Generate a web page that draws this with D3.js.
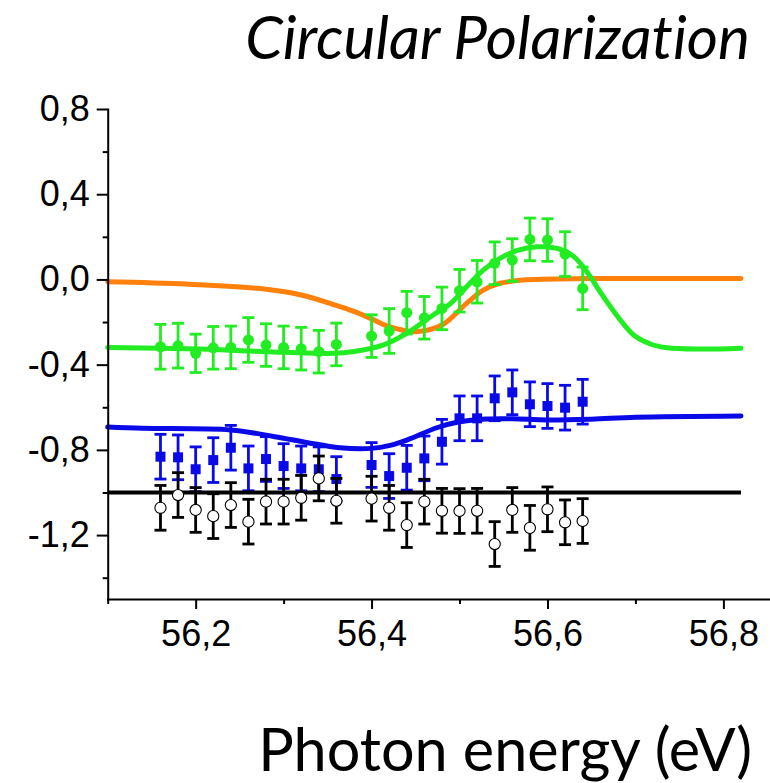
<!DOCTYPE html>
<html>
<head>
<meta charset="utf-8">
<script src="https://cdn.jsdelivr.net/npm/d3@7"></script>
<style>
  html, body { margin: 0; padding: 0; background: #ffffff; }
  svg { display: block; }
</style>
</head>
<body>
<svg id="chart" width="770" height="783"></svg>
<script>
// Photon energies of the measured points (eV)
const energies = [56.16, 56.18, 56.20, 56.22, 56.24, 56.26, 56.28, 56.30, 56.32, 56.34, 56.36,
                  56.40, 56.42, 56.44, 56.46, 56.48, 56.50, 56.52, 56.54, 56.56, 56.58, 56.60, 56.62, 56.64];

// Measured circular polarization, green series (filled circles)
const greenValues = [-0.316, -0.311, -0.347, -0.321, -0.319, -0.284, -0.308, -0.319, -0.325, -0.339, -0.305,
                     -0.266, -0.242, -0.156, -0.180, -0.136, -0.053, -0.011, 0.076, 0.091, 0.188, 0.185, 0.119, -0.042];
const greenErrors = [0.105, 0.105, 0.09, 0.1, 0.1, 0.105, 0.1, 0.1, 0.1, 0.1, 0.1,
                     0.1, 0.105, 0.1, 0.1, 0.1, 0.1, 0.1, 0.1, 0.1, 0.1, 0.1, 0.105, 0.1];

// Blue series (filled squares)
const blueValues = [-0.832, -0.835, -0.891, -0.848, -0.790, -0.887, -0.843, -0.876, -0.887, -0.891, -0.937,
                    -0.871, -0.923, -0.884, -0.840, -0.762, -0.652, -0.652, -0.558, -0.530, -0.586, -0.594, -0.602, -0.574];
const blueErrors = [0.105, 0.105, 0.105, 0.105, 0.105, 0.105, 0.105, 0.105, 0.105, 0.105, 0.105,
                    0.105, 0.105, 0.105, 0.105, 0.105, 0.105, 0.105, 0.105, 0.105, 0.105, 0.105, 0.105, 0.105];

// Black series (open circles)
const blackValues = [-1.072, -1.012, -1.082, -1.111, -1.059, -1.137, -1.043, -1.043, -1.025, -0.934, -1.039,
                     -1.029, -1.072, -1.153, -1.043, -1.086, -1.087, -1.086, -1.242, -1.082, -1.166, -1.079, -1.140, -1.134];
const blackErrors = [0.105, 0.105, 0.105, 0.105, 0.105, 0.105, 0.105, 0.105, 0.105, 0.105, 0.105,
                     0.105, 0.105, 0.105, 0.105, 0.105, 0.105, 0.105, 0.105, 0.105, 0.105, 0.105, 0.105, 0.105];

// Model curves, sampled as [energy, value]
const orangeCurve = [[56.10, -0.011], [56.19, -0.022], [56.28, -0.046], [56.32, -0.073], [56.357, -0.118],
                     [56.38, -0.150], [56.40, -0.185], [56.42, -0.222], [56.45, -0.245], [56.48, -0.214],
                     [56.508, -0.112], [56.527, -0.050], [56.546, -0.018], [56.572, -0.003], [56.65, 0.004],
                     [56.82, 0.004]];
const greenCurve = [[56.10, -0.319], [56.205, -0.327], [56.28, -0.339], [56.357, -0.347], [56.38, -0.338],
                    [56.413, -0.308], [56.44, -0.253], [56.47, -0.167], [56.49, -0.112], [56.51, -0.026],
                    [56.527, 0.044], [56.546, 0.099], [56.565, 0.135], [56.588, 0.153], [56.611, 0.146],
                    [56.63, 0.107], [56.646, 0.029], [56.66, -0.059], [56.68, -0.175], [56.698, -0.261],
                    [56.717, -0.303], [56.736, -0.321], [56.773, -0.327], [56.82, -0.323]];
const blueCurve = [[56.10, -0.693], [56.14, -0.699], [56.24, -0.707], [56.29, -0.738], [56.326, -0.765],
                   [56.364, -0.790], [56.40, -0.793], [56.421, -0.779], [56.44, -0.754], [56.475, -0.695],
                   [56.50, -0.668], [56.53, -0.655], [56.56, -0.654], [56.60, -0.660], [56.65, -0.656],
                   [56.70, -0.647], [56.82, -0.641]];
const blackLevel = [[56.10, -1.0], [56.82, -1.0]];

// Axis ticks
const xTickValues = [56.2, 56.4, 56.6, 56.8];
const xTickLabels = ["56,2", "56,4", "56,6", "56,8"];
const xMinorTicks = [56.1, 56.3, 56.5, 56.7];
const yTickValues = [0.8, 0.4, 0.0, -0.4, -0.8, -1.2];
const yTickLabels = ["0,8", "0,4", "0,0", "-0,4", "-0,8", "-1,2"];
const yMinorTicks = [0.6, 0.2, -0.2, -0.6, -1.0, -1.4];

const titleText = "Circular Polarization";
const xAxisTitle = "Photon energy (eV)";

// ---------------------------------------------------------------
const svg = d3.select("#chart");
const x = d3.scaleLinear().domain([56.1, 56.853]).range([107.7, 770]);
const y = d3.scaleLinear().domain([-1.5, 0.8]).range([599, 109]);

const COLORS = { orange: "#ff800a", green: "#22ec22", blue: "#0a0ae8", black: "#000000" };
const tickFont = "'Liberation Sans', Arial, sans-serif";

const line = d3.line()
  .x(d => x(d[0]))
  .y(d => y(d[1]))
  .curve(d3.curveCatmullRom.alpha(0.5));

function drawCurve(data, color, width) {
  svg.append("path")
    .datum(data)
    .attr("fill", "none")
    .attr("stroke", color)
    .attr("stroke-width", width)
    .attr("stroke-linecap", "round")
    .attr("stroke-linejoin", "round")
    .attr("d", line);
}

function drawErrorBars(values, errors, color) {
  const g = svg.append("g")
    .attr("stroke", color)
    .attr("stroke-width", 2.8)
    .attr("fill", "none");
  const pts = energies.map((e, i) => ({ e, v: values[i], err: errors[i] }));
  const capHalf = 6;
  g.selectAll("line.bar").data(pts).join("line")
    .attr("class", "bar")
    .attr("x1", d => x(d.e)).attr("x2", d => x(d.e))
    .attr("y1", d => y(d.v + d.err)).attr("y2", d => y(d.v - d.err));
  g.selectAll("line.capTop").data(pts).join("line")
    .attr("class", "capTop")
    .attr("x1", d => x(d.e) - capHalf).attr("x2", d => x(d.e) + capHalf)
    .attr("y1", d => y(d.v + d.err)).attr("y2", d => y(d.v + d.err));
  g.selectAll("line.capBot").data(pts).join("line")
    .attr("class", "capBot")
    .attr("x1", d => x(d.e) - capHalf).attr("x2", d => x(d.e) + capHalf)
    .attr("y1", d => y(d.v - d.err)).attr("y2", d => y(d.v - d.err));
  return pts;
}

// Orange model
drawCurve(orangeCurve, COLORS.orange, 5);

// Green series + model
drawCurve(greenCurve, COLORS.green, 5);
const greenPts = drawErrorBars(greenValues, greenErrors, COLORS.green);
svg.append("g").selectAll("circle").data(greenPts).join("circle")
  .attr("cx", d => x(d.e)).attr("cy", d => y(d.v)).attr("r", 5.5)
  .attr("fill", COLORS.green);

// Blue series + model
drawCurve(blueCurve, COLORS.blue, 5);
const bluePts = drawErrorBars(blueValues, blueErrors, COLORS.blue);
svg.append("g").selectAll("rect").data(bluePts).join("rect")
  .attr("x", d => x(d.e) - 5).attr("y", d => y(d.v) - 5)
  .attr("width", 10).attr("height", 10)
  .attr("fill", COLORS.blue);

// Black reference level + open circles
svg.append("path")
  .datum(blackLevel)
  .attr("fill", "none")
  .attr("stroke", COLORS.black)
  .attr("stroke-width", 4)
  .attr("d", d3.line().x(d => x(d[0])).y(d => y(d[1])));
const blackPts = drawErrorBars(blackValues, blackErrors, COLORS.black);
svg.append("g").selectAll("circle").data(blackPts).join("circle")
  .attr("cx", d => x(d.e)).attr("cy", d => y(d.v)).attr("r", 5.6)
  .attr("fill", "#ffffff")
  .attr("stroke", COLORS.black)
  .attr("stroke-width", 1.1);

// ---------------- Axes ----------------
function styleAxis(g) {
  g.selectAll("path.domain").attr("stroke", "#000").attr("stroke-width", 2).attr("stroke-linecap", "square");
  g.selectAll(".tick line").attr("stroke", "#000").attr("stroke-width", 2);
  g.selectAll(".tick text")
    .attr("fill", "#000")
    .style("font-family", tickFont)
    .style("font-size", "36px");
}

const xAxis = svg.append("g")
  .attr("transform", `translate(0,${y(-1.5)})`)
  .call(d3.axisBottom(x).tickValues(xTickValues)
        .tickFormat((d, i) => xTickLabels[i]).tickSize(10).tickSizeOuter(0));
styleAxis(xAxis);
xAxis.selectAll(".tick text").attr("y", 21);

const xMinor = svg.append("g")
  .attr("transform", `translate(0,${y(-1.5)})`)
  .call(d3.axisBottom(x).tickValues(xMinorTicks).tickFormat("").tickSize(5).tickSizeOuter(0));
styleAxis(xMinor);
xMinor.select("path.domain").remove();

const yAxis = svg.append("g")
  .attr("transform", `translate(${x(56.1)},0)`)
  .call(d3.axisLeft(y).tickValues(yTickValues)
        .tickFormat((d, i) => yTickLabels[i]).tickSize(11).tickPadding(7).tickSizeOuter(0));
styleAxis(yAxis);

const yMinor = svg.append("g")
  .attr("transform", `translate(${x(56.1)},0)`)
  .call(d3.axisLeft(y).tickValues(yMinorTicks).tickFormat("").tickSize(5).tickSizeOuter(0));
styleAxis(yMinor);
yMinor.select("path.domain").remove();

// ---------------- Titles ----------------
function fitText(sel, targetWidth) {
  const w = sel.node().getComputedTextLength();
  const size = parseFloat(sel.style("font-size"));
  sel.style("font-size", (size * targetWidth / w) + "px");
}

const title = svg.append("text")
  .attr("x", 750).attr("y", 59)
  .attr("text-anchor", "end")
  .style("font-family", "Lato, 'Open Sans', sans-serif")
  .style("font-style", "italic")
  .style("font-variant-ligatures", "none")
  .style("font-size", "52px")
  .attr("fill", "#000")
  .text(titleText);
fitText(title, 505);

const xTitle = svg.append("text")
  .attr("x", 752).attr("y", 771)
  .attr("text-anchor", "end")
  .style("font-family", "Lato, 'Open Sans', sans-serif")
  .style("font-variant-ligatures", "none")
  .style("font-size", "56px")
  .attr("fill", "#000")
  .text(xAxisTitle);
fitText(xTitle, 494);
</script>
</body>
</html>
